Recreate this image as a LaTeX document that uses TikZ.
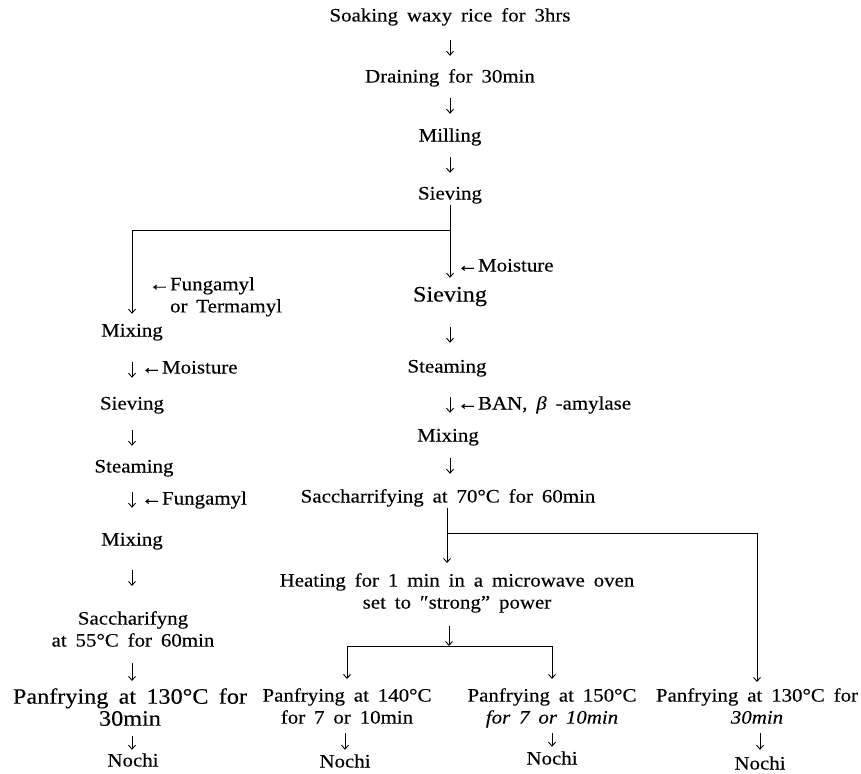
\documentclass[tikz,border=0pt]{standalone}
\usepackage{fontspec}
\setmainfont{Liberation Serif}[FakeStretch=1.1, WordSpace=1.7, FakeBold=0.25]
\usetikzlibrary{arrows.meta}
\begin{document}
\begin{tikzpicture}[x=1pt,y=-1pt,
  txt/.style={inner sep=1pt, font=\fontsize{19}{22}\selectfont, text height=13pt, text depth=4pt},
  big/.style={txt, font=\fontsize{22}{25}\selectfont},
  multi/.style={inner sep=1pt, font=\fontsize{19}{22}\selectfont, align=center, anchor=north},
  lbl/.style={txt, anchor=west},
  ln/.style={line width=0.9pt},
  tip/.style={ln, -{Straight Barb[length=4pt,width=7pt]}},
  dn/.style 2 args={tip, shorten <=#1, shorten >=#2}
]
\useasboundingbox (0,0) rectangle (861,773);
% main trunk
\node[txt] (soak)  at (450,17)  {Soaking waxy rice for 3hrs};
\node[txt] (drain) at (450,78)  {Draining for 30min};
\node[txt] (mill)  at (450,137) {Milling};
\node[txt] (siev)  at (450,195) {Sieving};
\draw[dn={13.5pt}{12.5pt}] (soak) -- (drain);
\draw[dn={10.5pt}{13.5pt}] (drain) -- (mill);
\draw[dn={10.5pt}{12.5pt}] (mill) -- (siev);
\coordinate (j1) at (450,230);
% right column
\node[big] (sievR)  at (450,297) {Sieving};
\node[txt] (steamR) at (447,368) {Steaming};
\node[txt] (mixR)   at (448,437) {Mixing};
\node[txt] (sacc70) at (448,498) {Saccharrifying at 70°C for 60min};
\node[lbl] (moistR) at (456,267) {←Moisture};
\node[lbl] (ban)    at (456,405) {←BAN, \textit{β} -amylase};
% left column
\node[txt] (mixL)   at (132,332) {Mixing};
\node[txt] (sievL)  at (132,405) {Sieving};
\node[txt] (steamL) at (134,468) {Steaming};
\node[txt] (mixL2)  at (132,541) {Mixing};
\node[multi] (sacc55) at (133,610) {Saccharifyng\\at 55°C for 60min\strut};
\node[multi, font=\fontsize{22}{22}\selectfont] (p130L) at (130,687) {Panfrying at 130°C for\\30min\strut};
\node[txt] (nochiL) at (133,762) {Nochi};
\node[multi, align=left, anchor=north west] (fung) at (148,276) {←Fungamyl\\\phantom{←}or Termamyl};
\node[lbl] (moistL) at (140,369) {←Moisture};
\node[lbl] (fung2)  at (140,500) {←Fungamyl};
% branching
\draw[ln] (siev) -- (j1);
\draw[tip, shorten >=8.5pt] (j1) -| (mixL.north);
\draw[tip, shorten >=9.5pt] (j1) -- (sievR);
\draw[dn={20.5pt}{15.5pt}] (sievR.south) -- (sievR.south |- steamR.north);
\draw[dn={19.5pt}{14.5pt}] (sievR.south |- steamR.south) -- (sievR.south |- mixR.north);
\draw[dn={11.5pt}{14.5pt}] (sievR.south |- mixR.south) -- (sievR.south |- sacc70.north);
\draw[dn={20.5pt}{17.5pt}] (mixL.south) -- (mixL.south |- sievL.north);
\draw[dn={15.5pt}{12.5pt}] (sievL.south) -- (sievL.south |- steamL.north);
\draw[dn={14.5pt}{23.5pt}] (sievL.south |- steamL.south) -- (sievL.south |- mixL2.north);
\draw[dn={19.5pt}{24pt}] (mixL2.south) -- (mixL2.south |- sacc55.north);
\draw[dn={9pt}{6pt}] (mixL2.south |- sacc55.south) -- (mixL2.south |- p130L.north);
\draw[dn={2pt}{2.5pt}] (mixL2.south |- p130L.south) -- (mixL2.south |- nochiL.north);
% lower right part
\coordinate (j2) at (447,533);
\node[multi] (heat) at (457,572) {Heating for 1 min in a microwave oven\\set to ″strong” power\strut};
\node[multi] (p140) at (347,687) {Panfrying at 140°C\\for 7 or 10min\strut};
\node[multi] (p150) at (552,687) {Panfrying at 150°C\\\textit{for 7 or 10min}\strut};
\node[multi] (p130R) at (757,687) {Panfrying at 130°C for\\\textit{30min}\strut};
\node[txt] (nochi1) at (345,763) {Nochi};
\node[txt] (nochi2) at (552,760) {Nochi};
\node[txt] (nochi3) at (760,765) {Nochi};
\draw[ln] (j2 |- sacc70.south) -- (j2);
\draw[tip, shorten >=9pt] (j2) -- (j2 |- heat.north);
\draw[tip, shorten >=5pt] (j2) -| (p130R.north);
\coordinate (hj) at (449,646);
\draw[tip, shorten <=10pt] (hj |- heat.south) -- (hj);
\draw[tip, shorten >=8pt] (hj) -| (p140.north);
\draw[tip, shorten >=8pt] (hj) -| (p150.north);
\draw[dn={2pt}{3.5pt}] (nochi1 |- p140.south) -- (nochi1);
\draw[dn={2pt}{3.5pt}] (nochi2 |- p150.south) -- (nochi2);
\draw[dn={2pt}{5.5pt}] (nochi3 |- p130R.south) -- (nochi3);
\end{tikzpicture}
\end{document}
